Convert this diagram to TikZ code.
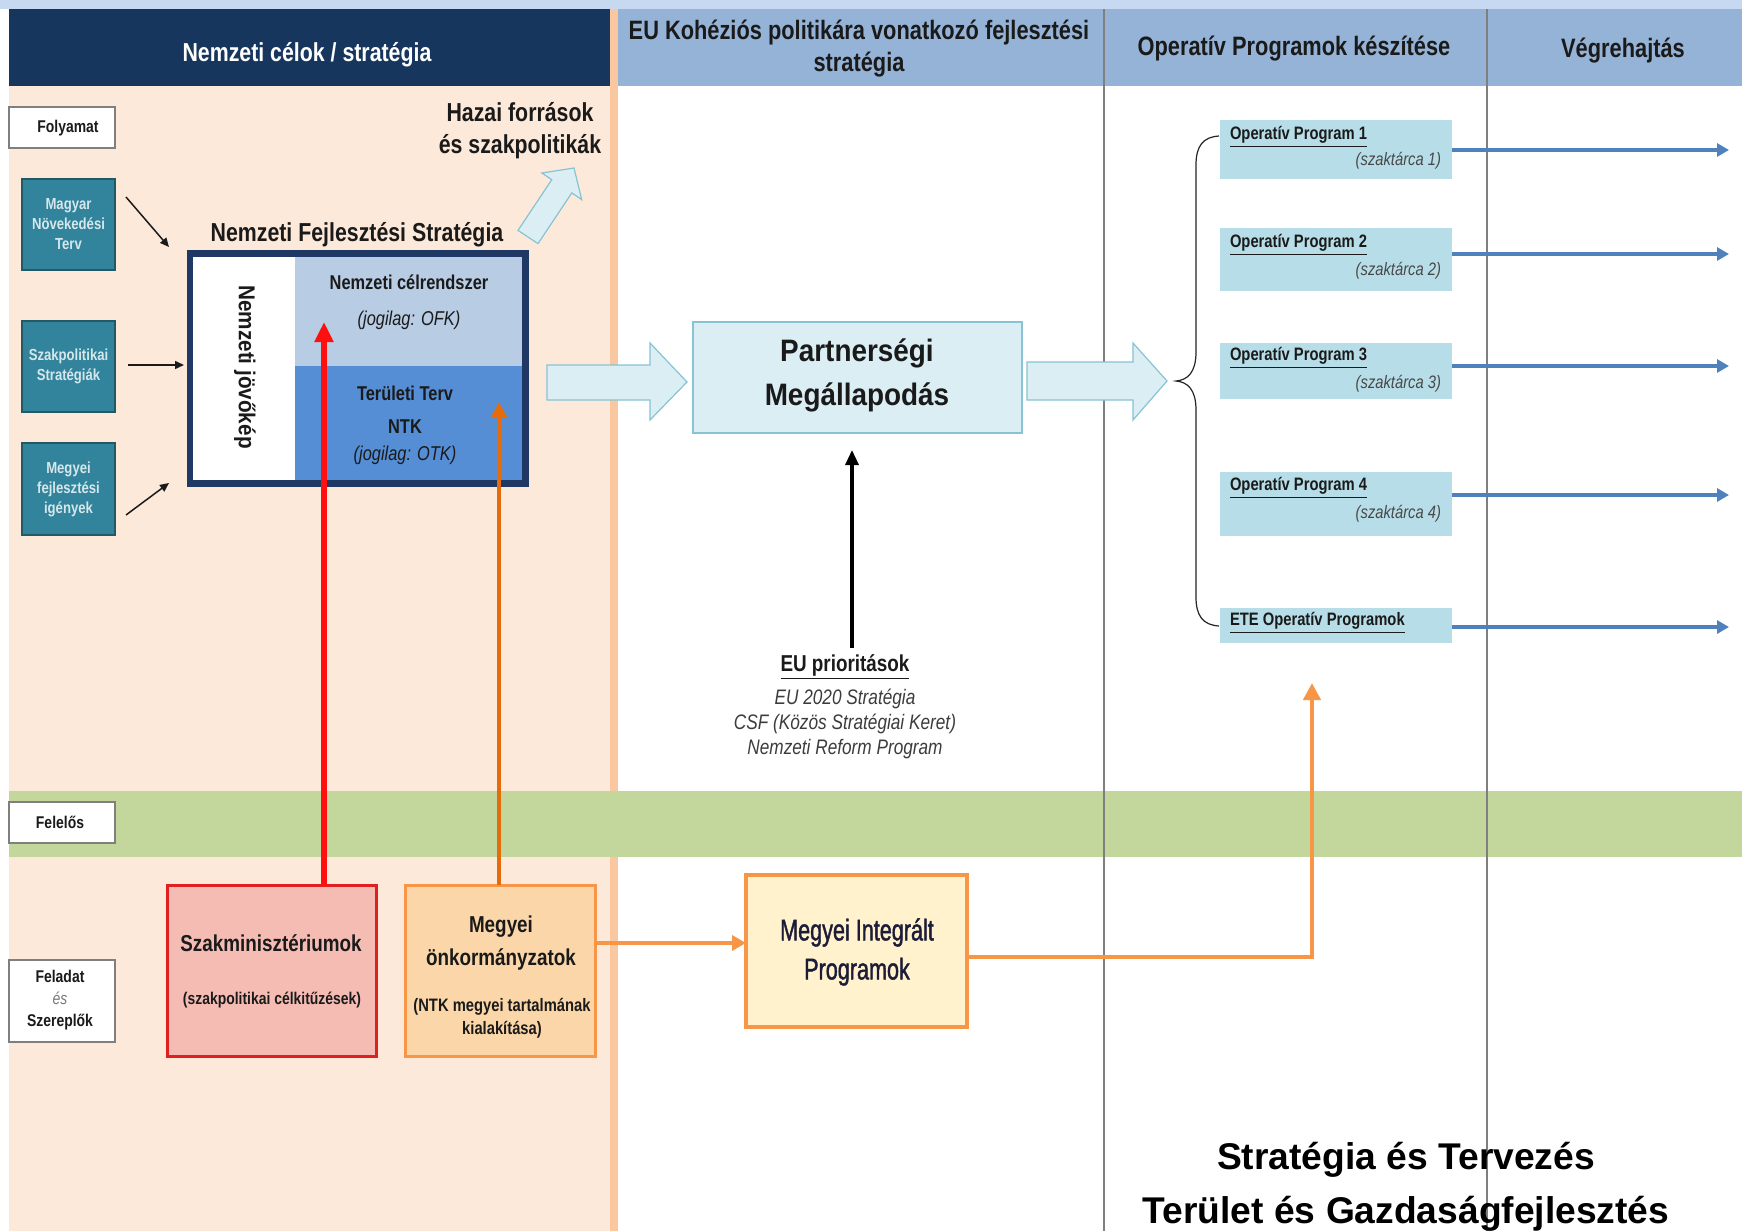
\documentclass[tikz,border=0pt]{standalone}
\usepackage{fontspec}
\setmainfont{Liberation Sans}
\newfontfamily\nar[FakeStretch=0.82]{Liberation Sans}
\newfontfamily\pmf[FakeStretch=0.9]{Liberation Sans}
\newfontfamily\mipf[FakeStretch=0.72,FakeBold=1.3]{Liberation Sans}
\usetikzlibrary{arrows.meta}
\definecolor{topstrip}{HTML}{C6D9F1}
\definecolor{navy}{HTML}{17365D}
\definecolor{hdrblue}{HTML}{95B3D7}
\definecolor{peach}{HTML}{FDE9D9}
\definecolor{stripe}{HTML}{FAC8A0}
\definecolor{band}{HTML}{C3D69B}
\definecolor{teal}{HTML}{31849B}
\definecolor{tealdk}{HTML}{215967}
\definecolor{nfsnavy}{HTML}{1F3864}
\definecolor{upblue}{HTML}{B8CCE4}
\definecolor{lowblue}{HTML}{558ED5}
\definecolor{pale}{HTML}{DBEEF4}
\definecolor{paleedge}{HTML}{86C3D3}
\definecolor{opbox}{HTML}{B7DEE8}
\definecolor{opblue}{HTML}{4F81BD}
\definecolor{redline}{HTML}{FF1010}
\definecolor{pinkfill}{HTML}{F5BCB4}
\definecolor{rededge}{HTML}{E02020}
\definecolor{orangeup}{HTML}{E46C0A}
\definecolor{orfill}{HTML}{FBD6A8}
\definecolor{oredge}{HTML}{F79646}
\definecolor{mipfill}{HTML}{FFF2CC}
\definecolor{sepgray}{HTML}{7F7F7F}
\definecolor{ink}{HTML}{1A1A1A}
\definecolor{mipink}{HTML}{1C1C38}
\newcommand\fz[1]{\fontsize{#1}{#1}\selectfont}
\newcommand\fzl[2]{\fontsize{#1}{#2}\selectfont}
\begin{document}
\begin{tikzpicture}[x=0.5pt,y=-0.5pt,
  every node/.style={inner sep=0pt, outer sep=0pt},
  hdrw/.style={text=white, font=\nar\bfseries\fz{13}},
  hdrk/.style={text=ink, font=\nar\bfseries\fz{13.3}, align=center},
  lblbox/.style={draw=sepgray, fill=white, line width=0.6pt, minimum width=53pt},
  lbltxt/.style={text=ink, font=\nar\bfseries\fz{8.5}, align=center},
  tealbox/.style={fill=teal, draw=tealdk, line width=0.6pt, minimum width=46.5pt,
     text=white!80!teal, font=\nar\bfseries\fzl{8}{10}, align=center},
  opbx/.style={fill=opbox, minimum width=116pt},
  optitle/.style={anchor=west, text=ink, font=\nar\bfseries\fz{9}},
  opsub/.style={anchor=east, text=ink!80, font=\nar\itshape\fz{9}},
  bluearr/.style={draw=opblue, line width=2pt, -{Triangle[length=6pt,width=6.5pt]}},
  fatarrow/.style={fill=pale, draw=paleedge, line width=0.6pt, line join=miter},
  smallarr/.style={draw=ink, line width=0.75pt, -{Triangle[length=4.5pt,width=4pt]}}
]
\useasboundingbox (0,0) rectangle (1742,1231);
% backgrounds
\fill[white] (0,0) rectangle (1742,1231);
\fill[topstrip] (0,0) rectangle (1742,9);
\fill[navy] (9,9) rectangle (610,86);
\fill[hdrblue] (618,9) rectangle (1742,86);
\fill[peach] (9,86) rectangle (610,1231);
\fill[stripe] (610,9) rectangle (618,1231);
\fill[band] (9,791) rectangle (1742,857);
\draw[sepgray, line width=0.6pt] (1104,9) -- (1104,1231);
\draw[sepgray, line width=0.6pt] (1487,9) -- (1487,1231);

% headers
\node[hdrw] (h1) at (307,55) {Nemzeti célok / stratégia};
\node[hdrk] (h2a) at (859,33) {EU Kohéziós politikára vonatkozó fejlesztési};
\node[hdrk] (h2b) at (859,65) {stratégia};
\node[hdrk] (h3) at (1294,49) {Operatív Programok készítése};
\node[hdrk] (h4) at (1623,51) {Végrehajtás};

% left labels
\node[lblbox, minimum height=20.5pt] (fol) at (62,127.5) {};
\node[lbltxt] (folt) at (68,128) {Folyamat};
\node[lblbox, minimum height=20.5pt] (fel) at (62,822.5) {};
\node[lbltxt] (felt) at (60,822) {Felelős};
\node[lblbox, minimum height=41pt] (fsz) at (62,1001) {};
\node[lbltxt, font=\nar\bfseries\fzl{8.5}{11}] (fszt) at (60,1000) {Feladat\\{\mdseries\itshape\color{ink!60}és}\\Szereplők};

% teal boxes
\node[tealbox, minimum height=45.5pt] (mnt) at (68.5,224.5) {Magyar\\Növekedési\\Terv};
\node[tealbox, minimum height=45.5pt] (szs) at (68.5,366.5) {Szakpolitikai\\Stratégiák};
\node[tealbox, minimum height=46pt] (mfi) at (68.5,489) {Megyei\\fejlesztési\\igények};

% NFS block
\node[text=ink, font=\nar\bfseries\fz{13}] (nfst) at (357,235) {Nemzeti Fejlesztési Stratégia};
\fill[nfsnavy] (187,250) rectangle (529,487);
\fill[white] (193,257) rectangle (295,480);
\fill[upblue] (295,257) rectangle (522,366);
\fill[lowblue] (295,366) rectangle (522,480);
\node[text=ink, font=\pmf\bfseries\fz{11.5}, rotate=-90] (njk) at (245,367) {Nemzeti jövőkép};
\node[text=ink, font=\nar\bfseries\fz{10}] (ncr) at (409,282) {Nemzeti célrendszer};
\node[text=ink, font=\nar\itshape\fz{10}] (ofk) at (409,320) {(jogilag: OFK)};
\node[text=ink, font=\nar\bfseries\fz{10}] (tt) at (405,393) {Területi Terv};
\node[text=ink, font=\nar\bfseries\fz{10}] (ntk) at (405,427) {NTK};
\node[text=ink, font=\nar\itshape\fz{10}] (otk) at (405,455) {(jogilag: OTK)};

% small arrows into NFS
\coordinate (a1s) at (126,197); \coordinate (a1e) at (169,247);
\coordinate (a2s) at (128,365); \coordinate (a2e) at (184,365);
\coordinate (a3s) at (126,515); \coordinate (a3e) at (169,483);
\draw[smallarr] (a1s) -- (a1e);
\draw[smallarr] (a2s) -- (a2e);
\draw[smallarr] (a3s) -- (a3e);

% Hazai forrasok
\node[text=ink, font=\nar\bfseries\fzl{13}{16}, align=center] (hz) at (520,131) {Hazai források\\és szakpolitikák};
\path[fatarrow] (518,230.4) -- (551.8,179.7) -- (541.9,173.0) -- (574,168) -- (581.7,199.6) -- (571.8,192.9) -- (538,243.6) -- cycle;

% fat arrows
\path[fatarrow] (547,365) -- (650,365) -- (650,343) -- (687,382) -- (650,420) -- (650,400) -- (547,400) -- cycle;
\path[fatarrow] (1027,362) -- (1133,362) -- (1133,343) -- (1167,381) -- (1133,420) -- (1133,400) -- (1027,400) -- cycle;

% Partnersegi
\node[fill=pale, draw=paleedge, line width=1pt, minimum width=164.5pt, minimum height=55.5pt] (pm) at (857.5,377.5) {};
\node[text=ink, font=\pmf\bfseries\fz{15.5}] (pm1) at (857,353) {Partnerségi};
\node[text=ink, font=\pmf\bfseries\fz{15.5}] (pm2) at (857,397) {Megállapodás};

% EU prioritasok
\node[text=ink, font=\nar\bfseries\fz{11.5}] (eup) at (845,667) {\underline{EU prioritások}};
\node[text=ink!85, align=center, font=\nar\itshape\fzl{10.5}{12.5}] (eul) at (845,724) {EU 2020 Stratégia\\CSF (Közös Stratégiai Keret)\\Nemzeti Reform Program};
\coordinate (eus) at (852,648); \coordinate (eue) at (852,450);
\draw[draw=black, line width=1.6pt, -{Triangle[length=7.5pt,width=6.5pt]}] (eus) -- (eue);

% brace
\draw[black!85, line width=0.6pt] (1219,136) .. controls (1203,137) and (1196,146) .. (1196,165) -- (1196,352) .. controls (1196,372) and (1188,380) .. (1176,381) .. controls (1188,382) and (1196,390) .. (1196,410) -- (1196,597) .. controls (1196,616) and (1203,625) .. (1219,626);

% OP boxes
\node[opbx, minimum height=29.5pt] (op1) at (1336,149.5) {};
\node[opbx, minimum height=31.5pt] (op2) at (1336,259.5) {};
\node[opbx, minimum height=28pt] (op3) at (1336,371) {};
\node[opbx, minimum height=32pt] (op4) at (1336,504) {};
\node[opbx, minimum height=17.5pt] (ete) at (1336,625.5) {};
\node[optitle] (op1t) at (1230,137) {\underline{Operatív Program 1}};
\node[opsub] (op1s) at (1441,161) {(szaktárca 1)};
\node[optitle] (op2t) at (1230,245) {\underline{Operatív Program 2}};
\node[opsub] (op2s) at (1441,271) {(szaktárca 2)};
\node[optitle] (op3t) at (1230,358) {\underline{Operatív Program 3}};
\node[opsub] (op3s) at (1441,384) {(szaktárca 3)};
\node[optitle] (op4t) at (1230,488) {\underline{Operatív Program 4}};
\node[opsub] (op4s) at (1441,514) {(szaktárca 4)};
\node[optitle] (etet) at (1230,623) {\underline{ETE Operatív Programok}};
\coordinate (b1) at (1729,150);
\coordinate (b2) at (1729,254);
\coordinate (b3) at (1729,366);
\coordinate (b4) at (1729,495);
\coordinate (b5) at (1729,627);
\draw[bluearr] (op1.east |- b1) -- (b1);
\draw[bluearr] (op2.east |- b2) -- (b2);
\draw[bluearr] (op3.east |- b3) -- (b3);
\draw[bluearr] (op4.east |- b4) -- (b4);
\draw[bluearr] (ete.east |- b5) -- (b5);

% bottom actors
\node[fill=pinkfill, draw=rededge, line width=1.5pt, minimum width=104.5pt, minimum height=85.5pt] (szm) at (271.5,970.5) {};
\node[text=ink, font=\nar\bfseries\fz{11.5}] (szm1) at (271,943) {Szakminisztériumok};
\node[text=ink, font=\nar\bfseries\fz{8.5}] (szm2) at (272,1000) {(szakpolitikai célkitűzések)};
\node[fill=orfill, draw=oredge, line width=1.5pt, minimum width=95pt, minimum height=85.5pt] (mo) at (500,970.5) {};
\node[text=ink, align=center, font=\nar\bfseries\fzl{11.5}{16.5}] (mo1) at (501,943.5) {Megyei\\önkormányzatok};
\node[text=ink, font=\nar\bfseries\fzl{9}{11.5}, align=center] (mo2) at (502,1018.5) {(NTK megyei tartalmának\\kialakítása)};

\node[fill=mipfill, draw=oredge, line width=1.8pt, minimum width=110.5pt, minimum height=76pt] (mip) at (856.5,951) {};
\node[text=mipink, font=\mipf\fzl{15}{19.5}, align=center] (mipt) at (857,952) {Megyei Integrált\\Programok};

% vertical arrows into NFS
\coordinate (rtip) at (324,322);
\coordinate (otip) at (499,402);
\draw[draw=redline, line width=3pt, -{Triangle[length=10pt,width=9pt]}] (szm.north -| rtip) -- (rtip);
\draw[draw=orangeup, line width=2.4pt, -{Triangle[length=8pt,width=8pt]}] (mo.north -| otip) -- (otip);

% orange connectors
\coordinate (mohy) at (0,943);
\draw[draw=oredge, line width=2.2pt, -{Triangle[length=7pt,width=7.5pt]}] (mo.east |- mohy) -- (mip.west |- mohy);
\coordinate (optip) at (1312,683);
\coordinate (mipy) at (0,957);
\draw[draw=oredge, line width=2.2pt, -{Triangle[length=8.5pt,width=8.5pt]}] (mip.east |- mipy) -| (optip);

% bottom title
\node[text=black, font=\bfseries\fz{18.6}] (tt1) at (1406,1160) {Stratégia és Tervezés};
\node[text=black, font=\bfseries\fz{18.6}] (tt2) at (1406,1214) {Terület és Gazdaságfejlesztés};
\end{tikzpicture}
\end{document}
